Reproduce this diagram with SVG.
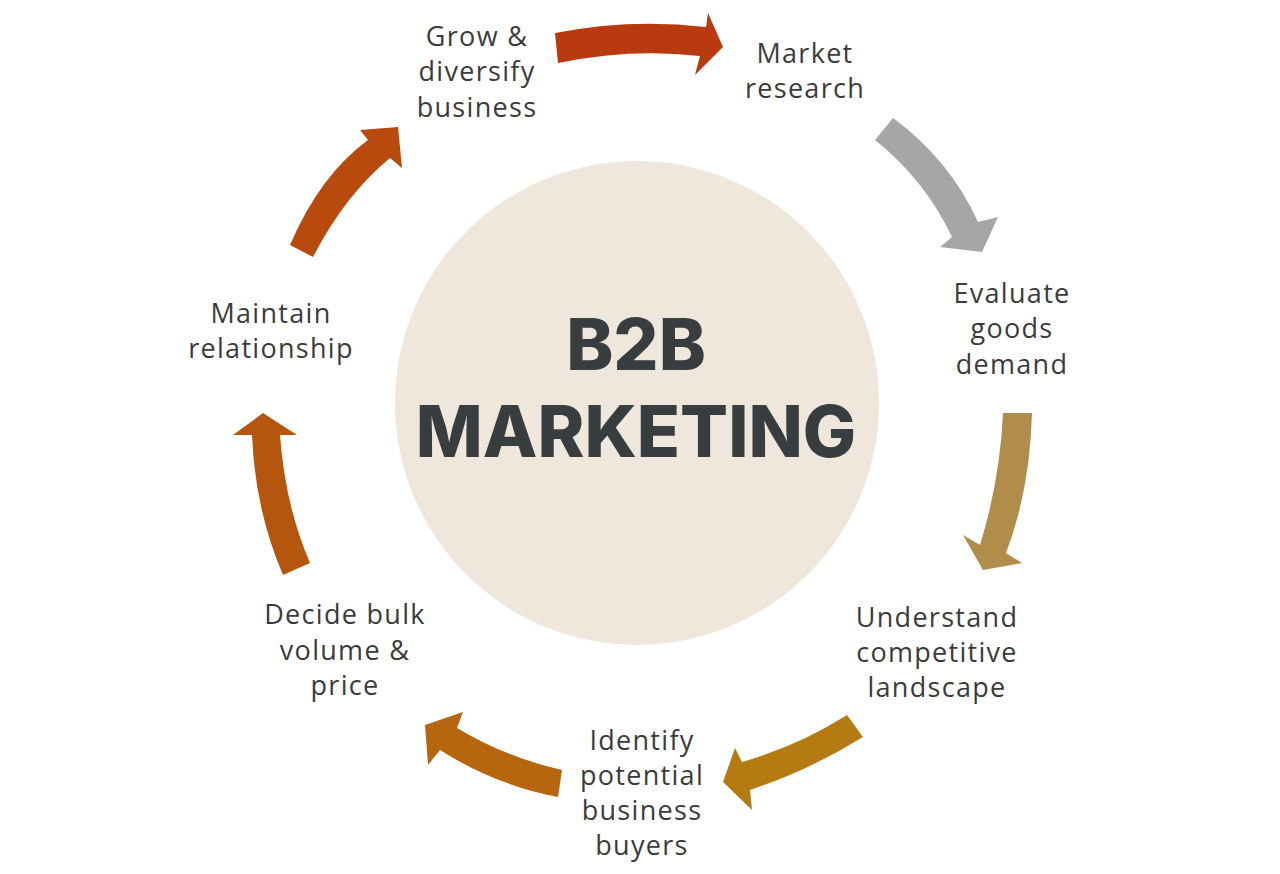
<svg xmlns="http://www.w3.org/2000/svg" width="1280" height="874" viewBox="0 0 1280 874">
<style>
.lbl{font-family:"Open Sans","Liberation Sans",sans-serif;font-size:27px;letter-spacing:1.3px;fill:#3b3b3b;text-anchor:middle}
.title{font-family:Inter,"Liberation Sans",sans-serif;font-weight:800;font-size:71px;fill:#383d40;text-anchor:middle}
</style>
<rect width="1280" height="874" fill="#ffffff"/>
<g id="center">
<circle cx="637" cy="403" r="242" fill="#efe6dc"/>
<text class="title" x="636" y="370">B2B</text>
<text class="title" x="636" y="457">MARKETING</text>
</g>
<g id="connectors">
<path d="M555,33 Q630,18 706,27 L708,13 L723,47 L695,75 L700,56 Q630,48 558,63 Z" fill="#b83a0e"/>
<path d="M893,118 Q950,160 978,222 L998,217 L982,252 L940,247 L952,237 Q925,180 875,140 Z" fill="#a6a6a6"/>
<path d="M1003,413 L1032,413 Q1030,490 1006,553 L1022,563 L983,570 L963,535 L980,545 Q1000,480 1003,413 Z" fill="#b08d4a"/>
<path d="M847,715 L863,737 Q810,770 750,790 L752,810 L723,782 L735,748 L742,762 Q800,745 847,715 Z" fill="#b67a12"/>
<path d="M562,770 L558,797 Q495,785 440,750 L428,765 L425,725 L463,712 L457,728 Q505,757 562,770 Z" fill="#b5660e"/>
<path d="M283,575 Q255,510 252,435 L233,435 L263,413 L297,435 L280,435 Q285,505 310,563 Z" fill="#b5560e"/>
<path d="M290,245 Q320,175 368,140 L360,130 L398,127 L402,168 L390,158 Q345,195 313,257 Z" fill="#b84a0e"/>
</g>
<g id="grow"><text class="lbl" x="477" y="46">Grow &amp;</text><text class="lbl" x="477" y="81">diversify</text><text class="lbl" x="477" y="117">business</text></g>
<g id="market"><text class="lbl" x="805" y="63">Market</text><text class="lbl" x="805" y="98">research</text></g>
<g id="evaluate"><text class="lbl" x="1012" y="303">Evaluate</text><text class="lbl" x="1012" y="338">goods</text><text class="lbl" x="1012" y="374">demand</text></g>
<g id="understand"><text class="lbl" x="937" y="627">Understand</text><text class="lbl" x="937" y="662">competitive</text><text class="lbl" x="937" y="697">landscape</text></g>
<g id="identify"><text class="lbl" x="642" y="750">Identify</text><text class="lbl" x="642" y="785">potential</text><text class="lbl" x="642" y="820">business</text><text class="lbl" x="642" y="855">buyers</text></g>
<g id="decide"><text class="lbl" x="345" y="624">Decide bulk</text><text class="lbl" x="345" y="660">volume &amp;</text><text class="lbl" x="345" y="695">price</text></g>
<g id="maintain"><text class="lbl" x="271" y="323">Maintain</text><text class="lbl" x="271" y="358">relationship</text></g>
</svg>
